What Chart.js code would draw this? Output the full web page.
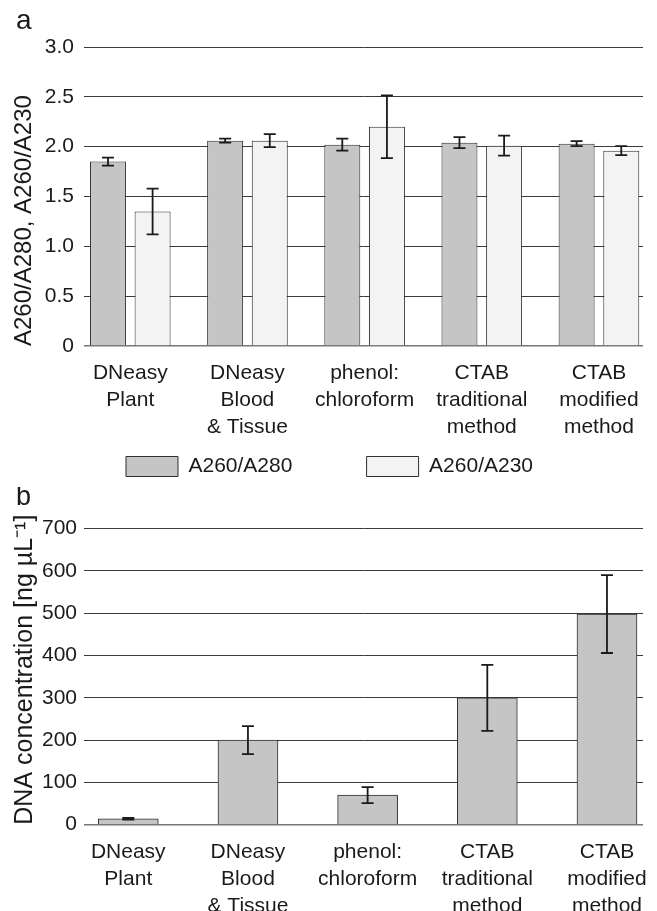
<!DOCTYPE html>
<html><head><meta charset="utf-8">
<script src="https://cdn.jsdelivr.net/npm/chart.js@4/dist/chart.umd.min.js"></script>
<style>
html,body{margin:0;padding:0;background:#fff;}
canvas{position:absolute;left:0;display:block;}
#ca{top:0;}
#cb{top:487px;}
</style></head><body>
<canvas id="ca" width="657" height="487"></canvas>
<canvas id="cb" width="657" height="424"></canvas>
<script>
// ---- data ----
const methods = [['DNeasy','Plant'],['DNeasy','Blood','& Tissue'],['phenol:','chloroform'],['CTAB','traditional','method'],['CTAB','modified','method']];
const seriesNames = ['A260/A280','A260/A230'];
const ratio280 = [1.85, 2.06, 2.02, 2.04, 2.03];
const ratio280Err = [0.04, 0.02, 0.06, 0.055, 0.025];
const ratio230 = [1.35, 2.06, 2.20, 2.01, 1.96];
const ratio230Err = [0.23, 0.065, 0.315, 0.10, 0.045];
const concentration = [14, 200, 70, 300, 498];
const concentrationErr = [2, 33, 19, 78, 92];
const ratioTicks = [0, 0.5, 1.0, 1.5, 2.0, 2.5, 3.0];
const concTicks = [0, 100, 200, 300, 400, 500, 600, 700];

const FONT = "'Liberation Sans', Arial, sans-serif";
const TXT = '#1a1a1a';
const GREY = '#c4c5c4', LIGHT = '#f3f3f3', EDGE = '#2e2e2e';

const errorBars = {
  id: 'errorBars',
  afterDatasetsDraw(chart) {
    const ctx = chart.ctx, ys = chart.scales.y;
    chart.data.datasets.forEach((ds, di) => {
      const meta = chart.getDatasetMeta(di);
      if (!ds.errors) return;
      meta.data.forEach((el, i) => {
        const v = ds.data[i].y, e = ds.errors[i];
        const yt = ys.getPixelForValue(v + e), yb = ys.getPixelForValue(v - e);
        const x = el.x;
        ctx.save();
        ctx.strokeStyle = '#1a1a1a';
        ctx.lineWidth = 1.8;
        ctx.beginPath();
        ctx.moveTo(x, yt); ctx.lineTo(x, yb);
        ctx.moveTo(x - 6, yt); ctx.lineTo(x + 6, yt);
        ctx.moveTo(x - 6, yb); ctx.lineTo(x + 6, yb);
        ctx.stroke();
        ctx.restore();
      });
    });
  }
};

function pts(vals) { return vals.map((v, i) => ({x: i, y: v})); }

function xScale(min, max, h) {
  return {
    type: 'linear', min: min, max: max, offset: false,
    grid: {display: false}, border: {display: false},
    afterBuildTicks: s => { s.ticks = methods.map((m, i) => ({value: i})); },
    afterFit: s => { s.height = h; },
    ticks: {autoSkip: false, maxRotation: 0, minRotation: 0, padding: 6, color: TXT,
      font: {family: FONT, size: 21, lineHeight: 1.286},
      callback: v => methods[v]}
  };
}
function yGrid() {
  return {drawTicks: false,
    color: c => c.tick && c.tick.value === 0 ? '#777' : '#3a3a3a',
    lineWidth: c => c.tick && c.tick.value === 0 ? 1.6 : 1};
}

new Chart(document.getElementById('ca'), {
  type: 'bar',
  data: {datasets: [
    {label: seriesNames[0], data: pts(ratio280), errors: ratio280Err, backgroundColor: GREY, borderColor: EDGE, borderWidth: 1},
    {label: seriesNames[1], data: pts(ratio230), errors: ratio230Err, backgroundColor: LIGHT, borderColor: EDGE, borderWidth: 1}
  ]},
  options: {
    responsive: false, animation: false, devicePixelRatio: 1,
    layout: {padding: {left: 16, right: 14, top: 0, bottom: 0}},
    datasets: {bar: {categoryPercentage: 0.762, barPercentage: 0.806}},
    scales: {
      x: xScale(-0.395, 4.376, 100),
      y: {min: 0, max: 3,
        afterBuildTicks: s => { s.ticks = ratioTicks.map(v => ({value: v})); },
        afterFit: s => { s.width = 68; },
        grid: yGrid(), border: {display: false},
        ticks: {padding: 10, color: TXT, font: {family: FONT, size: 21},
          callback: v => v === 0 ? '0' : v.toFixed(1)},
        title: {display: true, text: 'A260/A280, A260/A230', color: TXT, align: 'start',
          font: {family: FONT, size: 24, lineHeight: 1}, padding: {top: -3.3, bottom: 0}}
      }
    },
    plugins: {
      legend: {position: 'bottom', labels: {boxWidth: 52, boxHeight: 20, padding: 10, color: TXT,
        font: {family: FONT, size: 21},
        generateLabels: chart => {
          const items = Chart.defaults.plugins.legend.labels.generateLabels(chart);
          items.forEach((it, i) => { if (i < items.length - 1) it.text = it.text + ' '.repeat(11); });
          return items;
        }}},
      title: {display: true, text: 'a', align: 'start', color: TXT,
        font: {family: FONT, size: 28, weight: 'normal', lineHeight: 1}, padding: {top: 7, bottom: 12}},
      tooltip: {enabled: false}
    }
  },
  plugins: [errorBars]
});

new Chart(document.getElementById('cb'), {
  type: 'bar',
  data: {datasets: [
    {label: 'DNA concentration', data: pts(concentration), errors: concentrationErr, backgroundColor: GREY, borderColor: EDGE, borderWidth: 1, barThickness: 60}
  ]},
  options: {
    responsive: false, animation: false, devicePixelRatio: 1,
    layout: {padding: {left: 16, right: 14, top: 0, bottom: 0}},
    scales: {
      x: xScale(-0.370, 4.301, 86.3),
      y: {min: 0, max: 700,
        afterBuildTicks: s => { s.ticks = concTicks.map(v => ({value: v})); },
        afterFit: s => { s.width = 68; },
        grid: yGrid(), border: {display: false},
        ticks: {padding: 7, color: TXT, font: {family: FONT, size: 21}},
        title: {display: true, text: 'DNA concentration [ng µL⁻¹]', color: TXT, align: 'start',
          font: {family: FONT, size: 25, lineHeight: 1}, padding: {top: -3.5, bottom: 0}}
      }
    },
    plugins: {
      legend: {display: false},
      title: {display: true, text: 'b', align: 'start', color: TXT,
        font: {family: FONT, size: 27, weight: 'normal', lineHeight: 1}, padding: {top: -3, bottom: 17.7}},
      tooltip: {enabled: false}
    }
  },
  plugins: [errorBars]
});
</script>
</body></html>
